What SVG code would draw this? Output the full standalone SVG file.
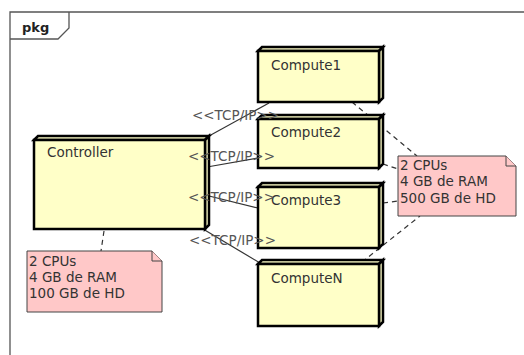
<svg xmlns="http://www.w3.org/2000/svg" width="524" height="355" viewBox="0 0 524 355">
<style>
text{font-family:"DejaVu Sans",Verdana,sans-serif;font-size:13.5px;fill:#333}
.lbl{fill:#555}
.node{fill:#ffffc8;stroke:#000;stroke-width:2.5;stroke-linejoin:miter}
.note{fill:#ffc8c8;stroke:#444;stroke-width:1}
.conn{stroke:#333;stroke-width:1.2;fill:none}
.dash{stroke:#333;stroke-width:1.2;fill:none;stroke-dasharray:5,4}
.frame{fill:none;stroke:#555;stroke-width:1.3}
</style>
<rect width="524" height="355" fill="#fff"/>
<g id="frame">
<path class="frame" d="M10,355 V12 H530"/>
<path class="frame" d="M10,39 H58 L69,28 V12"/>
<text x="22" y="32" style="font-weight:bold;fill:#222;font-size:13px">pkg</text>
</g>
<g id="connectors">
<line class="conn" x1="209" y1="136" x2="269" y2="103"/>
<line class="conn" x1="207" y1="167" x2="258" y2="158"/>
<line class="conn" x1="205" y1="195" x2="258" y2="208"/>
<line class="conn" x1="203" y1="229" x2="260" y2="263"/>
<line class="dash" x1="104" y1="231" x2="101" y2="251"/>
<line class="dash" x1="352" y1="102" x2="417" y2="156"/>
<line class="dash" x1="383" y1="164" x2="398" y2="169"/>
<line class="dash" x1="383" y1="203" x2="398" y2="201"/>
<line class="dash" x1="362" y1="262" x2="420" y2="216"/>
</g>
<g id="Controller">
<path class="node" d="M34,140 L38,136 H209 L205,140 Z"/>
<path class="node" d="M205,140 L209,136 V225 L205,229 Z"/>
<rect class="node" x="34" y="140" width="171" height="89"/>
<text x="47" y="157">Controller</text>
</g>
<g id="Compute1">
<path class="node" d="M258,51 L262,47 H383 L379,51 Z"/>
<path class="node" d="M379,51 L383,47 V98 L379,102 Z"/>
<rect class="node" x="258" y="51" width="121" height="51"/>
<text x="271" y="70">Compute1</text>
</g>
<g id="Compute2">
<path class="node" d="M258,119 L262,115 H383 L379,119 Z"/>
<path class="node" d="M379,119 L383,115 V164 L379,168 Z"/>
<rect class="node" x="258" y="119" width="121" height="49"/>
<text x="271" y="137">Compute2</text>
</g>
<g id="Compute3">
<path class="node" d="M258,187 L262,183 H383 L379,187 Z"/>
<path class="node" d="M379,187 L383,183 V244 L379,248 Z"/>
<rect class="node" x="258" y="187" width="121" height="61"/>
<text x="271" y="205">Compute3</text>
</g>
<g id="ComputeN">
<path class="node" d="M258,264 L262,260 H383 L379,264 Z"/>
<path class="node" d="M379,264 L383,260 V322 L379,326 Z"/>
<rect class="node" x="258" y="264" width="121" height="62"/>
<text x="271" y="283">ComputeN</text>
</g>
<g id="labels">
<text class="lbl" x="192" y="120">&lt;&lt;TCP/IP&gt;&gt;</text>
<text class="lbl" x="188" y="161">&lt;&lt;TCP/IP&gt;&gt;</text>
<text class="lbl" x="188" y="202">&lt;&lt;TCP/IP&gt;&gt;</text>
<text class="lbl" x="189" y="245">&lt;&lt;TCP/IP&gt;&gt;</text>
</g>
<g id="noteController">
<path class="note" d="M27,251 H152 L162,261 V312 H27 Z"/>
<path class="note" d="M152,251 V261 H162"/>
<text x="29" y="266">2 CPUs</text>
<text x="29" y="282">4 GB de RAM</text>
<text x="29" y="298">100 GB de HD</text>
</g>
<g id="noteCompute">
<path class="note" d="M398,156 H506 L516,166 V216 H398 Z"/>
<path class="note" d="M506,156 V166 H516"/>
<text x="400" y="170">2 CPUs</text>
<text x="400" y="186">4 GB de RAM</text>
<text x="400" y="203">500 GB de HD</text>
</g>
</svg>
